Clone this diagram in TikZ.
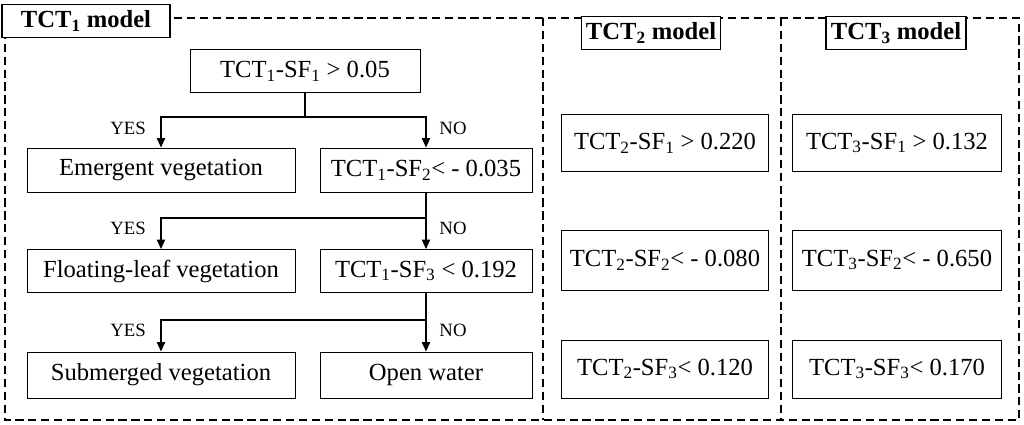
\documentclass[tikz,border=0pt]{standalone}
\usepackage{fontspec}
\setmainfont{Liberation Serif}
\usetikzlibrary{positioning,arrows.meta}
\tikzset{
  box/.style={draw, rectangle, line width=0.8pt, inner sep=0mm, font=\fontsize{21}{24}\selectfont},
  title/.style={draw, rectangle, fill=white, line width=1pt, inner sep=0mm, font=\bfseries\fontsize{21}{24}\selectfont},
  lab/.style={font=\fontsize{16}{19}\selectfont},
  arr/.style={-{Triangle[length=8pt,width=7pt]}, line width=1pt},
  frame/.style={line width=0.9pt, dash pattern=on 7pt off 4pt}
}
\begin{document}
\begin{tikzpicture}[x=0.03cm,y=-0.03cm]
 \useasboundingbox (0,0) rectangle (1024,425);
 \draw[frame] (5,18) rectangle (1019,420);
 \draw[frame] (543,18) -- (543,420);
 \draw[frame] (781,18) -- (781,420);

 \node[title, minimum width=168*0.03cm, minimum height=33*0.03cm] (t1) at (86,21) {TCT\textsubscript{1} model};
 \node[title, minimum width=139*0.03cm, minimum height=33*0.03cm] (t2) at (651,33) {TCT\textsubscript{2} model};
 \node[title, minimum width=140*0.03cm, minimum height=33*0.03cm] (t3) at (896,33) {TCT\textsubscript{3} model};

 % left decision tree
 \node[box, minimum width=230*0.03cm, minimum height=43*0.03cm] (sf1) at (305,71) {TCT\textsubscript{1}-SF\textsubscript{1} > 0.05};
 \node[box, minimum width=268*0.03cm, minimum height=44*0.03cm] (emer) at (161,170) {Emergent vegetation};
 \node[box, minimum width=212*0.03cm, minimum height=44*0.03cm] (sf2) at (426,170) {TCT\textsubscript{1}-SF\textsubscript{2}< - 0.035};
 \node[box, minimum width=268*0.03cm, minimum height=43*0.03cm] (float) at (161,271) {Floating-leaf vegetation};
 \node[box, minimum width=212*0.03cm, minimum height=43*0.03cm] (sf3) at (426,271) {TCT\textsubscript{1}-SF\textsubscript{3} < 0.192};
 \node[box, minimum width=268*0.03cm, minimum height=46*0.03cm] (sub) at (161,375) {Submerged vegetation};
 \node[box, minimum width=212*0.03cm, minimum height=46*0.03cm] (open) at (426,375) {Open water};

 \coordinate (j1) at (305,117);
 \draw[line width=1pt] (sf1) -- (j1);
 \draw[arr] (j1) -| (emer.north);
 \draw[arr] (j1) -| (sf2.north);
 \coordinate (j2) at (426,218);
 \draw[arr] (sf2) -- (sf3);
 \draw[arr] (j2) -| (float.north);
 \coordinate (j3) at (426,320);
 \draw[arr] (sf3) -- (open);
 \draw[arr] (j3) -| (sub.north);

 \foreach \y in {128,228,330} {
   \node[lab] at (128,\y) {YES};
   \node[lab] at (453,\y) {NO};
 }

 % TCT2 and TCT3 thresholds
 \node[box, minimum width=207*0.03cm, minimum height=57*0.03cm] (b21) at (665,143) {TCT\textsubscript{2}-SF\textsubscript{1} > 0.220};
 \node[box, minimum width=207*0.03cm, minimum height=60*0.03cm] (b22) at (665,260) {TCT\textsubscript{2}-SF\textsubscript{2}< - 0.080};
 \node[box, minimum width=207*0.03cm, minimum height=58*0.03cm] (b23) at (665,369) {TCT\textsubscript{2}-SF\textsubscript{3}< 0.120};
 \node[box, minimum width=209*0.03cm, minimum height=57*0.03cm] (b31) at (897,143) {TCT\textsubscript{3}-SF\textsubscript{1} > 0.132};
 \node[box, minimum width=209*0.03cm, minimum height=60*0.03cm] (b32) at (897,260) {TCT\textsubscript{3}-SF\textsubscript{2}< - 0.650};
 \node[box, minimum width=209*0.03cm, minimum height=58*0.03cm] (b33) at (897,369) {TCT\textsubscript{3}-SF\textsubscript{3}< 0.170};
\end{tikzpicture}
\end{document}
